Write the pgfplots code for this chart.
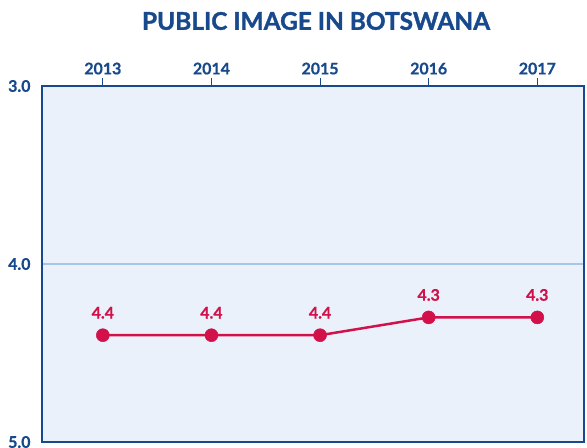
\documentclass[border=0pt]{standalone}
\usepackage{pgfplots}
\pgfplotsset{compat=1.18}
\usepackage{fontspec}
\setmainfont{Lato}[BoldFeatures={FakeBold=0.6}]
\newfontfamily\titlefont{Lato}[BoldFeatures={FakeBold=1.4}]
\definecolor{dblue}{HTML}{17498C}
\definecolor{bgblue}{HTML}{EAF1FA}
\definecolor{gridblue}{HTML}{A6C6E8}
\definecolor{lred}{HTML}{D2104A}
\begin{document}
\begin{tikzpicture}[x=1bp,y=1bp]
\useasboundingbox (0,0) rectangle (587,448);
\begin{axis}[
  at={(42bp,6bp)}, anchor=south west,
  scale only axis, width=542bp, height=356bp,
  xmin=-0.56, xmax=4.43, ymin=3, ymax=5, y dir=reverse,
  axis background/.style={fill=bgblue},
  axis line style={dblue, line width=1.2pt},
  xtick={0,1,2,3,4},
  xticklabels={2013,2014,2015,2016,2017},
  xtick pos=upper, xticklabel pos=upper,
  tick align=outside,
  major tick length=8bp,
  xtick style={dblue, line width=1pt},
  ytick={3,4,5},
  yticklabels={3.0,4.0,5.0},
  ytick style={draw=none},
  ymajorgrids,
  grid style={gridblue, line width=1.4pt},
  /pgf/number format/assume math mode=true,
  tick label style={font=\fontsize{16}{18}\selectfont\bfseries, text=dblue},
  yticklabel style={xshift=0bp},
  clip=false,
]
\addplot[lred, line width=2.5pt, mark=*, mark size=6.5bp,
  mark options={fill=lred, draw=lred, line width=0.5pt},
  point meta=explicit symbolic,
  nodes near coords,
  nodes near coords style={font=\fontsize{16}{18}\selectfont\bfseries, text=lred, anchor=south, yshift=13bp}]
  table[meta=l] {
x y l
0 4.4 4.4
1 4.4 4.4
2 4.4 4.4
3 4.3 4.3
4 4.3 4.3
};
\end{axis}
\node[font=\fontsize{24.5}{28}\selectfont\titlefont\bfseries, text=dblue] at (316,427) {PUBLIC IMAGE IN BOTSWANA};
\end{tikzpicture}
\end{document}
